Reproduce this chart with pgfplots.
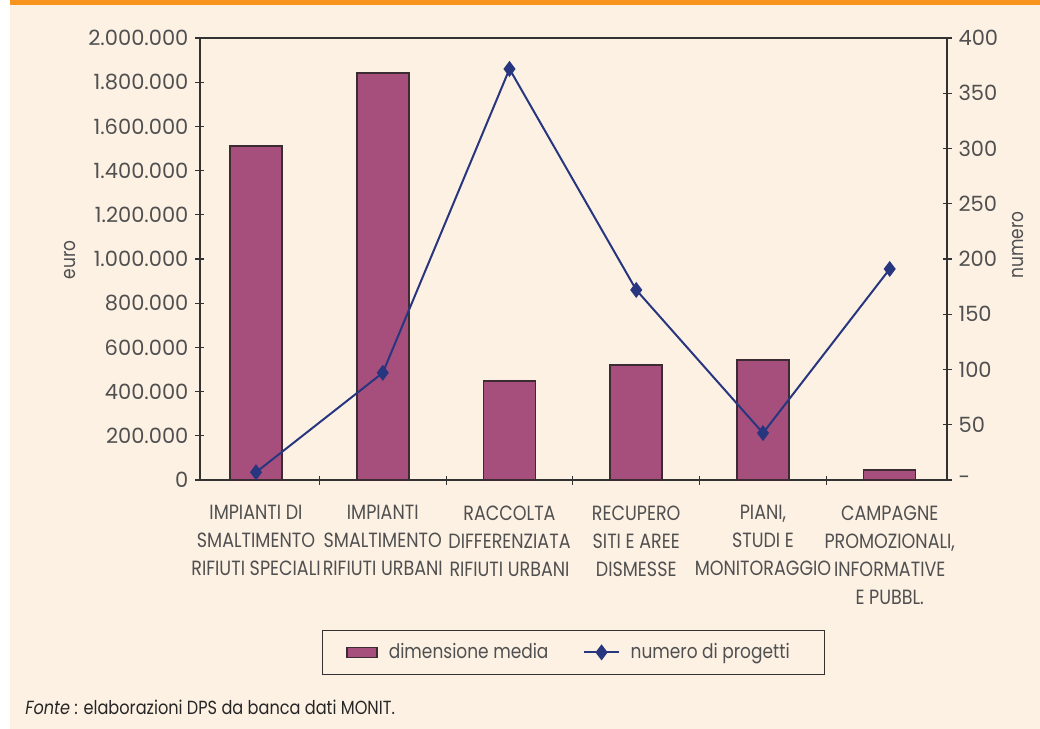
\documentclass[border=0pt]{standalone}
\usepackage{fontspec}
\setmainfont{Poppins}
\newfontfamily\narrowfont{Poppins}[FakeStretch=0.85]
\usepackage{pgfplots}
\pgfplotsset{compat=1.18}
\definecolor{cream}{HTML}{FDF1E4}
\definecolor{orangebar}{HTML}{F7941D}
\definecolor{barcol}{HTML}{A64F7C}
\definecolor{bardraw}{HTML}{3C2B33}
\definecolor{linecol}{HTML}{27367F}
\definecolor{textgray}{HTML}{505050}
\definecolor{axiscol}{HTML}{333333}
\begin{document}
\begin{tikzpicture}[x=1pt,y=1pt]
\fill[white] (-100,-124.5) rectangle (420,240);
\useasboundingbox (-100,-124.5) rectangle (420,240);
\fill[cream] (-95,-124.5) rectangle (420,240);
\fill[orangebar] (-95,237.5) rectangle (420,240);
\begin{axis}[
  at={(0,0)}, anchor=south west, scale only axis,
  width=373.5pt, height=221pt,
  xmin=-0.442, xmax=5.452, ymin=0, ymax=2000000,
  axis line style={axiscol, line width=0.6pt},
  ybar, bar width=26pt,
  tick align=center, major tick length=4.5pt, minor tick length=4.5pt,
  every tick/.style={axiscol, line width=0.6pt},
  xtick pos=bottom, ytick pos=left,
  xtick={0,1,2,3,4,5},
  major x tick style={draw=none},
  minor xtick={0.5,1.5,2.5,3.5,4.5},
  xticklabels={{IMPIANTI DI\\SMALTIMENTO\\RIFIUTI SPECIALI},
               {IMPIANTI\\SMALTIMENTO\\RIFIUTI URBANI},
               {RACCOLTA\\DIFFERENZIATA\\RIFIUTI URBANI},
               {RECUPERO\\SITI E AREE\\DISMESSE},
               {PIANI,\\STUDI E\\MONITORAGGIO},
               {CAMPAGNE\\PROMOZIONALI,\\INFORMATIVE\\E PUBBL.}},
  xticklabel style={align=center, text=textgray, font=\narrowfont\fontsize{10.3}{14}\selectfont, yshift=-7pt},
  ytick={0,200000,...,2000000},
  scaled y ticks=false,
  yticklabel style={/pgf/number format/.cd, fixed, 1000 sep={.}, assume math mode=true, /tikz/.cd, text=textgray, font=\fontsize{10.5}{12}\selectfont},
]
\addplot[fill=barcol, draw=bardraw, line width=0.75pt] coordinates {
  (0,1511000) (1,1842000) (2,448000) (3,520000) (4,543000) (5,45000)};
\end{axis}
\begin{axis}[
  at={(0,0)}, anchor=south west, scale only axis,
  width=373.5pt, height=221pt,
  xmin=-0.442, xmax=5.452, ymin=0, ymax=400,
  hide x axis,
  axis y line*=right,
  axis line style={axiscol, line width=0.6pt},
  tick align=center, major tick length=4.5pt,
  every tick/.style={axiscol, line width=0.6pt},
  ytick={0,50,...,400},
  yticklabels={-,50,100,150,200,250,300,350,400},
  yticklabel style={text=textgray, font=\fontsize{10.5}{12}\selectfont},
  legend style={at={(0.5,-0.339)}, anchor=north, draw=axiscol, fill=cream,
    font=\narrowfont\fontsize{10}{12}\selectfont, text=textgray, legend columns=2,
    /tikz/every even column/.append style={column sep=12pt},
    nodes={inner xsep=5.5pt},
    inner xsep=12pt, inner ysep=4.5pt},
  legend cell align=left,
]
\addlegendimage{legend image code/.code={\draw[fill=barcol, draw=bardraw, line width=0.75pt] (0pt,-2.5pt) rectangle (15pt,2.5pt);}}
\addlegendentry{dimensione media}
\addplot[color=linecol, line width=1pt, mark=diamond*, mark size=3.2pt] coordinates {
  (0,7) (1,97) (2,372) (3,172) (4,42.5) (5,191)};
\addlegendentry{numero di progetti}
\end{axis}
\node[rotate=90, text=textgray, font=\narrowfont\fontsize{10}{12}\selectfont] at (-65,110) {euro};
\node[rotate=90, text=textgray, font=\narrowfont\fontsize{10}{12}\selectfont] at (409,117.5) {numero};
\node[anchor=west, inner sep=0pt, text=black!85, font=\narrowfont\fontsize{9.5}{11}\selectfont] at (-87.5,-113.5) {\textit{Fonte} : elaborazioni DPS da banca dati MONIT.};
\end{tikzpicture}
\end{document}
